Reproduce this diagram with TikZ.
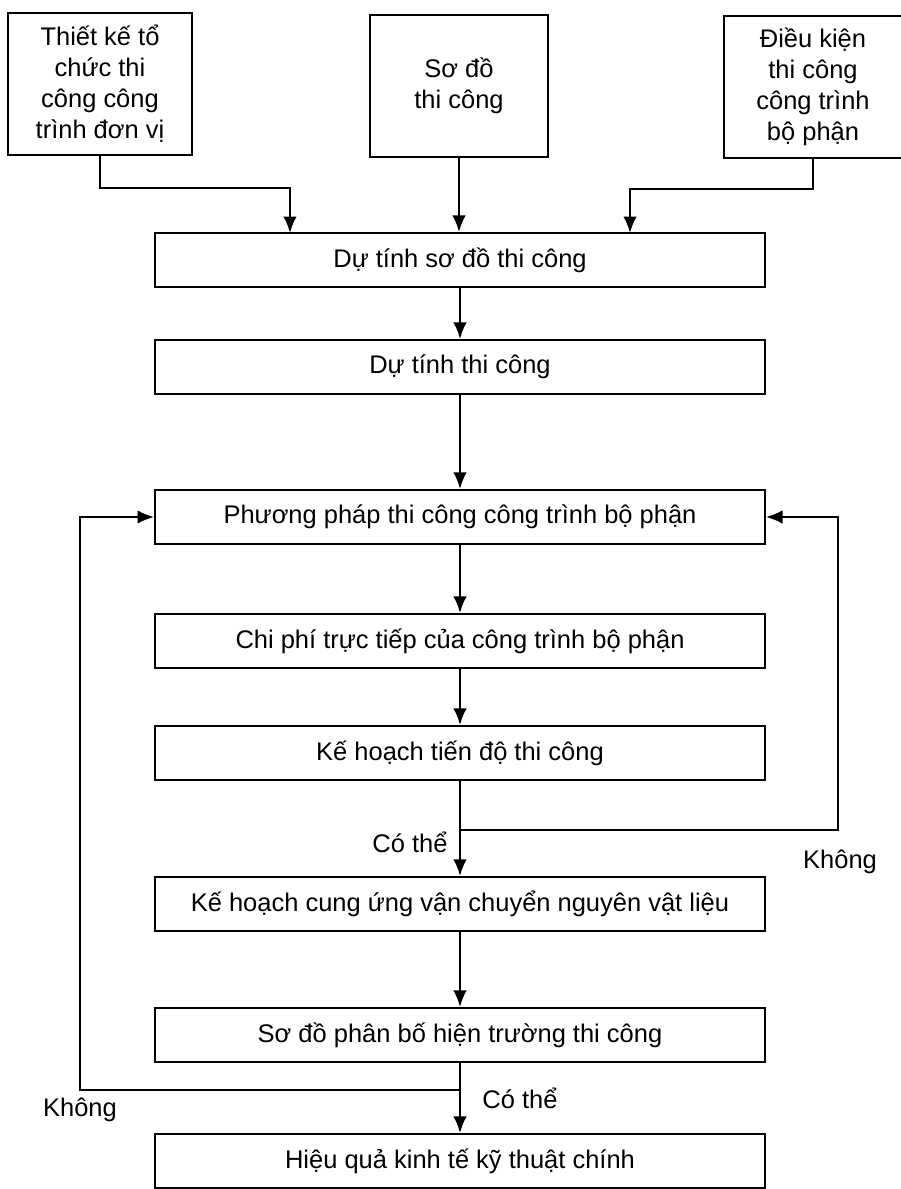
\documentclass[tikz,border=0pt]{standalone}
\usepackage{fontspec}
\setmainfont{Liberation Sans}
\usetikzlibrary{arrows.meta}
\begin{document}
\begin{tikzpicture}[x=0.02cm,y=-0.02cm,line width=1.2pt,
  font=\fontsize{14.5}{17.6}\selectfont,
  hop/.style={draw,minimum width=12.2cm,minimum height=1.08cm,inner sep=0pt},
  hopdau/.style={draw,minimum height=2.84cm,align=center,inner sep=2pt},
  ten/.style={-{Latex[length=3.3mm,width=2.7mm]}}]
  \useasboundingbox (0,0) rectangle (900,1189);
  \node[hopdau,minimum width=3.68cm] (tk) at (100,84) {Thiết kế tổ\\chức thi\\công công\\trình đơn vị};
  \node[hopdau,minimum width=3.56cm] (sd) at (459,86) {Sơ đồ\\thi công};
  \node[hopdau,minimum width=3.56cm] (dk) at (813,87) {Điều kiện\\thi công\\công trình\\bộ phận};
  \foreach \ten/\y/\chu in {b1/260/Dự tính sơ đồ thi công, b2/367/Dự tính thi công,
    b3/517/Phương pháp thi công công trình bộ phận,
    b4/641/Chi phí trực tiếp của công trình bộ phận,
    b5/753/Kế hoạch tiến độ thi công,
    b6/904/Kế hoạch cung ứng vận chuyển nguyên vật liệu,
    b7/1035/Sơ đồ phân bố hiện trường thi công,
    b8/1161/Hiệu quả kinh tế kỹ thuật chính}
    \node[hop] (\ten) at (460,\y) {\chu};
  % vao so do
  \coordinate (v1) at (290,233);
  \coordinate (v3) at (630,233);
  \draw[ten] (tk.south) -- ++(0,32) -| (v1);
  \draw[ten] (sd.south) -- (sd.south |- b1.north);
  \draw[ten] (dk.south) -- ++(0,30) -| (v3);
  \foreach \a/\b in {b1/b2,b2/b3,b3/b4,b4/b5,b5/b6,b6/b7,b7/b8}
    \draw[ten] (\a) -- (\b);
  % vong lai
  \coordinate (r1) at (460,830);
  \coordinate (k1) at (838,830);
  \draw[ten] (r1) -- (k1) |- (b3.east);
  \coordinate (r2) at (460,1090);
  \coordinate (k2) at (80,1090);
  \draw[ten] (r2) -- (k2) |- (b3.west);
  \node (c1) at (410,842) {Có thể};
  \node (n1) at (840,862) {Không};
  \node (c2) at (520,1098) {Có thể};
  \node (n2) at (80,1110) {Không};
\end{tikzpicture}
\end{document}
